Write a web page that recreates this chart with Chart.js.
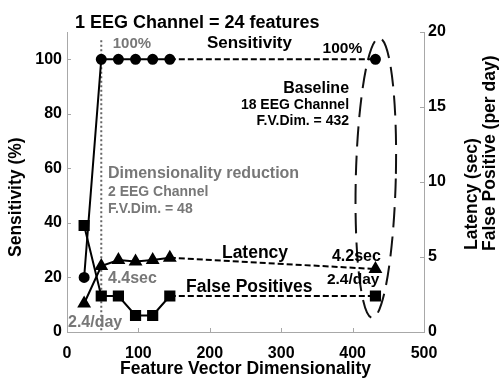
<!DOCTYPE html>
<html>
<head>
<meta charset="utf-8">
<title>Feature vector dimensionality</title>
<script src="https://cdn.jsdelivr.net/npm/chart.js@4/dist/chart.umd.min.js"></script>
<style>
  html, body { margin: 0; padding: 0; background: #fff; }
  #wrap { width: 502px; height: 380px; }
</style>
</head>
<body>
<div id="wrap"><canvas id="chart" width="502" height="380"></canvas></div>
<script>
// feature vector dimension (24 features per EEG channel)
const dims = [24, 48, 72, 96, 120, 144, 432];
const sensitivity = [20, 100, 100, 100, 100, 100, 100];    // %
const latency = [1.9, 4.4, 4.8, 4.7, 4.8, 4.95, 4.2];        // sec
const falsePositives = [7.1, 2.4, 2.4, 1.1, 1.1, 2.4, 2.4];  // per day
const xTicks = [0, 100, 200, 300, 400, 500];
const leftTicks = [0, 20, 40, 60, 80, 100];
const rightTicks = [0, 5, 10, 15, 20];

const FONT = '"Liberation Sans", Arial, Helvetica, sans-serif';
const GREY = '#777';
const AXIS = '#a8a8a8';

const toPoints = (ys) => dims.map((x, i) => ({ x, y: ys[i] }));
// last segment (144 -> 432) is drawn dashed
const dashLast = { borderDash: ctx => ctx.p1DataIndex === dims.length - 1 ? [6, 3] : undefined };

// annotation texts, anchored in data coordinates (x, left axis value)
const notes = [
  { t: '100%', x: 64, y: 104.1, size: 15, color: GREY },
  { t: 'Sensitivity', x: 196, y: 104.1, size: 17 },
  { t: '100%', x: 358, y: 102.3, size: 15.5 },
  { t: 'Baseline', x: 395, y: 87.6, size: 16, align: 'right' },
  { t: '18 EEG Channel', x: 395, y: 81.8, size: 14, align: 'right' },
  { t: 'F.V.Dim. = 432', x: 395, y: 75.9, size: 14, align: 'right' },
  { t: 'Dimensionality reduction', x: 57.4, y: 56.5, size: 16, color: GREY },
  { t: '2 EEG Channel', x: 57.4, y: 49.9, size: 14, color: GREY },
  { t: 'F.V.Dim. = 48', x: 57.4, y: 43.6, size: 14, color: GREY },
  { t: 'Latency', x: 217, y: 27.1, size: 17.5 },
  { t: '4.2sec', x: 371, y: 26, size: 16 },
  { t: '4.4sec', x: 57.4, y: 18, size: 16, color: GREY },
  { t: '2.4/day', x: 364, y: 17.6, size: 15.5 },
  { t: 'False Positives', x: 166.7, y: 14.7, size: 17.5 },
  { t: '2.4/day', x: 1.4, y: 1.8, size: 16, color: GREY }
];

const decorations = {
  id: 'decorations',
  beforeDatasetsDraw(chart) {
    const { ctx, scales: { x, y } } = chart;
    ctx.save();
    // dotted marker at the 2-channel setting
    ctx.strokeStyle = '#666';
    ctx.lineWidth = 2;
    ctx.setLineDash([2, 2.5]);
    ctx.beginPath();
    ctx.moveTo(x.getPixelForValue(48), y.getPixelForValue(107));
    ctx.lineTo(x.getPixelForValue(48), y.getPixelForValue(0));
    ctx.stroke();
    // dashed ellipse around the baseline
    ctx.strokeStyle = '#111';
    ctx.setLineDash([20, 9]);
    const cx = x.getPixelForValue(432.5), cy = y.getPixelForValue(56.5);
    const rx = x.getPixelForValue(432.5 + 28) - cx;
    const ry = cy - y.getPixelForValue(56.5 + 51.3);
    ctx.beginPath();
    ctx.ellipse(cx, cy, rx, ry, 0.025, 0, Math.PI * 2);
    ctx.stroke();
    ctx.restore();
  },
  afterDraw(chart) {
    const { ctx, chartArea: a, scales: { x, y, y2 } } = chart;
    ctx.save();
    // inward tick marks
    ctx.strokeStyle = AXIS;
    ctx.lineWidth = 1;
    ctx.beginPath();
    xTicks.forEach(v => { const p = Math.round(x.getPixelForValue(v)) + 0.5; ctx.moveTo(p, a.bottom); ctx.lineTo(p, a.bottom - 4); });
    leftTicks.forEach(v => { const p = Math.round(y.getPixelForValue(v)) + 0.5; ctx.moveTo(a.left, p); ctx.lineTo(a.left + 4, p); });
    rightTicks.forEach(v => { const p = Math.round(y2.getPixelForValue(v)) + 0.5; ctx.moveTo(a.right, p); ctx.lineTo(a.right - 4, p); });
    ctx.stroke();

    ctx.textBaseline = 'alphabetic';
    notes.forEach(n => {
      ctx.font = `bold ${n.size}px ${FONT}`;
      ctx.fillStyle = n.color || '#000';
      ctx.textAlign = n.align || 'left';
      ctx.fillText(n.t, x.getPixelForValue(n.x), y.getPixelForValue(n.y));
    });

    // title
    ctx.fillStyle = '#000';
    ctx.textAlign = 'left';
    ctx.font = `bold 18px ${FONT}`;
    ctx.fillText('1 EEG Channel = 24 features', 75, 28);

    // axis titles
    ctx.font = `bold 17.5px ${FONT}`;
    ctx.textAlign = 'center';
    ctx.textBaseline = 'middle';
    ctx.fillText('Feature Vector Dimensionality', (a.left + a.right) / 2, 369);
    ctx.textAlign = 'left';
    const vtext = (t, cx, sy) => {
      ctx.save();
      ctx.translate(cx, sy);
      ctx.rotate(-Math.PI / 2);
      ctx.fillText(t, 0, 0);
      ctx.restore();
    };
    vtext('Sensitivity (%)', 16, 257);
    vtext('Latency (sec)', 472, 250);
    vtext('False Positive (per day)', 490, 251);
    ctx.restore();
  }
};

const tickFont = { family: FONT, size: 16, weight: 'bold' };

new Chart(document.getElementById('chart').getContext('2d'), {
  type: 'line',
  data: {
    datasets: [
      {
        label: 'Sensitivity', data: toPoints(sensitivity), yAxisID: 'y',
        borderColor: '#000', backgroundColor: '#000', borderWidth: 2,
        pointStyle: 'circle', pointRadius: 4.5, segment: dashLast
      },
      {
        label: 'Latency', data: toPoints(latency), yAxisID: 'y2',
        borderColor: '#000', backgroundColor: '#000', borderWidth: 2,
        pointStyle: 'triangle', pointRadius: 6, segment: dashLast
      },
      {
        label: 'False Positives', data: toPoints(falsePositives), yAxisID: 'y2',
        borderColor: '#000', backgroundColor: '#000', borderWidth: 2,
        pointStyle: 'rect', pointRadius: 6.5, segment: dashLast
      }
    ]
  },
  options: {
    responsive: false,
    animation: false,
    devicePixelRatio: 1,
    layout: { padding: { top: 32, left: 0, right: 0, bottom: 0 } },
    plugins: { legend: { display: false }, tooltip: { enabled: false } },
    elements: { line: { tension: 0 } },
    scales: {
      x: {
        type: 'linear', min: 0, max: 500,
        afterFit: s => { s.height = 48; },
        afterBuildTicks: s => { s.ticks = xTicks.map(v => ({ value: v })); },
        border: { color: AXIS, width: 1 },
        grid: { drawOnChartArea: false, drawTicks: false },
        ticks: { color: '#000', font: tickFont, padding: 12, maxRotation: 0 }
      },
      y: {
        type: 'linear', position: 'left', min: 0, max: 110,
        afterFit: s => { s.width = 67; },
        afterBuildTicks: s => { s.ticks = leftTicks.map(v => ({ value: v })); },
        border: { color: AXIS, width: 1 },
        grid: { drawOnChartArea: false, drawTicks: false },
        ticks: { color: '#000', font: tickFont, padding: 5 }
      },
      y2: {
        type: 'linear', position: 'right', min: 0, max: 20,
        afterFit: s => { s.width = 78; },
        afterBuildTicks: s => { s.ticks = rightTicks.map(v => ({ value: v })); },
        border: { color: AXIS, width: 1 },
        grid: { drawOnChartArea: false, drawTicks: false },
        ticks: { color: '#000', font: tickFont, padding: 4 }
      }
    }
  },
  plugins: [decorations]
});
</script>
</body>
</html>
